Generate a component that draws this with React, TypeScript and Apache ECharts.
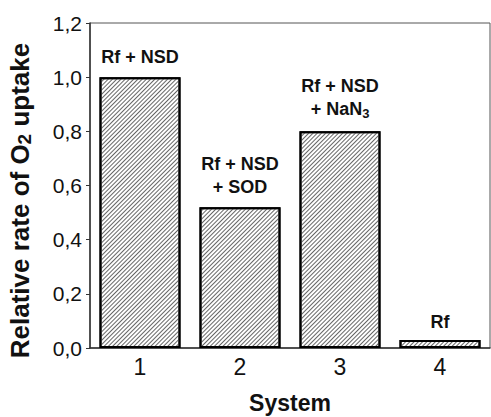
import React, { useEffect, useRef } from "react";
import * as echarts from "echarts";

const categories = ["1", "2", "3", "4"];
const values = [1.0, 0.52, 0.8, 0.03];
const barLabels = [
  "Rf + NSD",
  "Rf + NSD\n+ SOD",
  "Rf + NSD\n+ NaN{sub|3}",
  "Rf",
];
const labelGaps = [9, 9, 11, 6];
const yTicks = { min: 0, max: 1.2, interval: 0.2 };

const FONT = "Liberation Sans, Arial, sans-serif";

export default function App() {
  const ref = useRef<HTMLDivElement>(null);
  useEffect(() => {
    if (!ref.current) return;
    const chart = echarts.init(ref.current, undefined, { renderer: "svg" });
    chart.setOption({
      animation: false,
      grid: {
        left: 90,
        right: 1,
        top: 23,
        bottom: 69,
        outerBoundsMode: "none",
        containLabel: false,
        show: true,
        borderColor: "#555",
        borderWidth: 1,
        backgroundColor: "transparent",
      },
      xAxis: {
        type: "category",
        data: categories,
        name: "System",
        nameLocation: "middle",
        nameGap: 43,
        nameTextStyle: { fontFamily: FONT, fontSize: 23, lineHeight: 24, fontWeight: "bold", color: "#111" },
        axisLine: { lineStyle: { color: "#333", width: 1.5 } },
        axisTick: { alignWithLabel: true, inside: true, length: 6, lineStyle: { color: "#333" } },
        axisLabel: { fontFamily: FONT, fontSize: 23, color: "#111", margin: 7 },
      },
      yAxis: {
        type: "value",
        min: yTicks.min,
        max: yTicks.max,
        interval: yTicks.interval,
        name: "Relative rate of O{sub|2} uptake",
        nameLocation: "middle",
        nameGap: 56,
        nameTextStyle: {
          fontFamily: FONT,
          fontSize: 26,
          fontWeight: "bold",
          color: "#111",
          padding: [0, 30, 0, 0],
          rich: {
            sub: { fontFamily: FONT, fontSize: 19, fontWeight: "bold", color: "#111", verticalAlign: "bottom", padding: [10, 0, 0, 0] },
          },
        },
        splitLine: { show: false },
        axisLine: { show: true, lineStyle: { color: "#333", width: 1.5 } },
        axisTick: { show: true, inside: false, length: 4, lineStyle: { color: "#333" } },
        axisLabel: {
          fontFamily: FONT,
          fontSize: 21,
          color: "#111",
          margin: 8,
          formatter: (v: number) => v.toFixed(1).replace(".", ","),
        },
      },
      series: [
        {
          type: "bar",
          data: values.map((v, i) => ({ value: v, label: { distance: labelGaps[i] } })),
          barWidth: "81%",
          itemStyle: {
            color: "#fff",
            borderColor: "#000",
            borderWidth: 2,
            decal: {
              symbol: "rect",
              symbolSize: 1,
              dashArrayX: [1, 0],
              dashArrayY: [1, 2],
              rotation: -Math.PI / 4,
              color: "#666",
            },
          },
          label: {
            show: true,
            position: "top",
            distance: 11,
            fontFamily: FONT,
            fontSize: 18,
            fontWeight: "bold",
            color: "#111",
            align: "center",
            lineHeight: 23,
            formatter: (p: any) => barLabels[p.dataIndex],
            rich: {
              sub: { fontFamily: FONT, fontSize: 13, fontWeight: "bold", color: "#111", verticalAlign: "bottom", padding: [10, 0, 0, 0] },
            },
          },
        },
      ],
    });
    return () => chart.dispose();
  }, []);
  return <div ref={ref} style={{ position: "fixed", left: 0, top: 0, width: 491, height: 417, background: "#fff" }} />;
}
